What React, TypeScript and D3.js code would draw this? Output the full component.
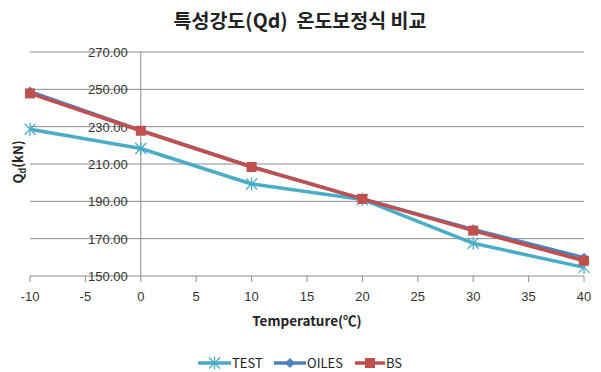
import React from "react";
import * as d3 from "d3";

const temperatures = [-10, 0, 10, 20, 30, 40];
const testValues = [228.6, 218.3, 199.3, 191.0, 167.5, 154.6];
const oilesValues = [248.8, 228.0, 208.6, 191.3, 175.0, 159.8];
const bsValues = [247.8, 227.8, 208.4, 191.3, 174.3, 158.2];
const xTicks = [-10, -5, 0, 5, 10, 15, 20, 25, 30, 35, 40];
const yTicks = [150, 170, 190, 210, 230, 250, 270];

const seriesNames = ["TEST", "OILES", "BS"];
const seriesColors = ["#4BACC6", "#4F81BD", "#C0504D"];

const W = 601;
const H = 372;
const plot = { left: 30, right: 584, top: 52, bottom: 276 };

const x = d3.scaleLinear().domain([-10, 40]).range([plot.left, plot.right]);
const y = d3.scaleLinear().domain([150, 270]).range([plot.bottom, plot.top]);

const tickFont = "'Liberation Sans', Arial, sans-serif";
const krFont = "'Noto Sans CJK KR', 'Noto Sans', sans-serif";

function Marker({ kind, cx, cy, color }: { kind: string; cx: number; cy: number; color: string }) {
  if (kind === "BS") {
    const s = 10;
    return <rect x={cx - s / 2} y={cy - s / 2} width={s} height={s} fill={color} />;
  }
  if (kind === "OILES") {
    const r = 5;
    return (
      <path
        d={`M${cx},${cy - r}L${cx + r},${cy}L${cx},${cy + r}L${cx - r},${cy}Z`}
        fill={color}
      />
    );
  }
  const r = 5.5;
  return (
    <g stroke={color} strokeWidth={1.3} fill="none">
      <line x1={cx - r} y1={cy - r} x2={cx + r} y2={cy + r} />
      <line x1={cx - r} y1={cy + r} x2={cx + r} y2={cy - r} />
      <line x1={cx} y1={cy - r - 1} x2={cx} y2={cy + r + 1} />
    </g>
  );
}

export default function App() {
  const allSeries = [testValues, oilesValues, bsValues];
  const line = d3
    .line<number>()
    .x((_, i) => x(temperatures[i]))
    .y((v) => y(v));

  const legendItems = [
    { lx: 198, tx: 232 },
    { lx: 274, tx: 307 },
    { lx: 355, tx: 386 },
  ];

  return (
    <svg
      width={W}
      height={H}
      style={{ position: "absolute", left: 0, top: 0, background: "#fff" }}
    >
      <text
        x={300}
        y={28}
        textAnchor="middle"
        fontFamily={krFont}
        fontWeight="bold"
        fontSize={19.5}
        fill="#222"
      >
        {"특성강도(Qd)\u00a0 온도보정식 비교"}
      </text>

      {/* horizontal gridlines */}
      {yTicks.map((t) => (
        <line
          key={t}
          x1={plot.left}
          x2={plot.right}
          y1={y(t)}
          y2={y(t)}
          stroke="#8c8c8c"
          strokeWidth={1}
        />
      ))}

      {/* value axis crossing at x = 0 */}
      <line x1={x(0)} x2={x(0)} y1={plot.top} y2={plot.bottom} stroke="#8c8c8c" />

      {/* x-axis ticks */}
      {xTicks.map((t) => (
        <g key={t}>
          <line x1={x(t)} x2={x(t)} y1={plot.bottom} y2={plot.bottom + 6} stroke="#8c8c8c" />
          <text
            x={x(t)}
            y={plot.bottom + 25}
            textAnchor="middle"
            fontFamily={tickFont}
            fontSize={13}
            fill="#333"
          >
            {t}
          </text>
        </g>
      ))}

      {/* y tick labels */}
      {yTicks.map((t) => (
        <text
          key={t}
          x={x(0) - 13}
          y={y(t) + 5}
          textAnchor="end"
          fontFamily={tickFont}
          fontSize={13}
          fill="#333"
        >
          {d3.format(".2f")(t)}
        </text>
      ))}

      {/* series */}
      {allSeries.map((vals, si) => (
        <g key={seriesNames[si]}>
          <path
            d={line(vals) ?? ""}
            fill="none"
            stroke={seriesColors[si]}
            strokeWidth={3.5}
            strokeLinejoin="round"
          />
          {vals.map((v, i) => (
            <Marker
              key={i}
              kind={seriesNames[si]}
              cx={x(temperatures[i])}
              cy={y(v)}
              color={seriesColors[si]}
            />
          ))}
        </g>
      ))}

      {/* axis titles */}
      <text
        x={307}
        y={326}
        textAnchor="middle"
        fontFamily={krFont}
        fontWeight="bold"
        fontSize={13.5}
        fill="#222"
      >
        Temperature(℃)
      </text>
      <text
        transform={`translate(23,${(plot.top + plot.bottom) / 2 - 2}) rotate(-90)`}
        textAnchor="middle"
        fontFamily={krFont}
        fontWeight="bold"
        fontSize={13}
        fill="#222"
      >
        Q<tspan fontSize={9} dy={3}>d</tspan>
        <tspan dy={-3}>(kN)</tspan>
      </text>

      {/* legend */}
      {legendItems.map((it, i) => (
        <g key={seriesNames[i]}>
          <line
            x1={it.lx}
            x2={it.tx - 1}
            y1={363}
            y2={363}
            stroke={seriesColors[i]}
            strokeWidth={3.5}
          />
          <Marker
            kind={seriesNames[i]}
            cx={(it.lx + it.tx - 1) / 2}
            cy={363}
            color={seriesColors[i]}
          />
          <text x={it.tx} y={368} fontFamily={krFont} fontSize={13} fill="#222">
            {seriesNames[i]}
          </text>
        </g>
      ))}
    </svg>
  );
}
